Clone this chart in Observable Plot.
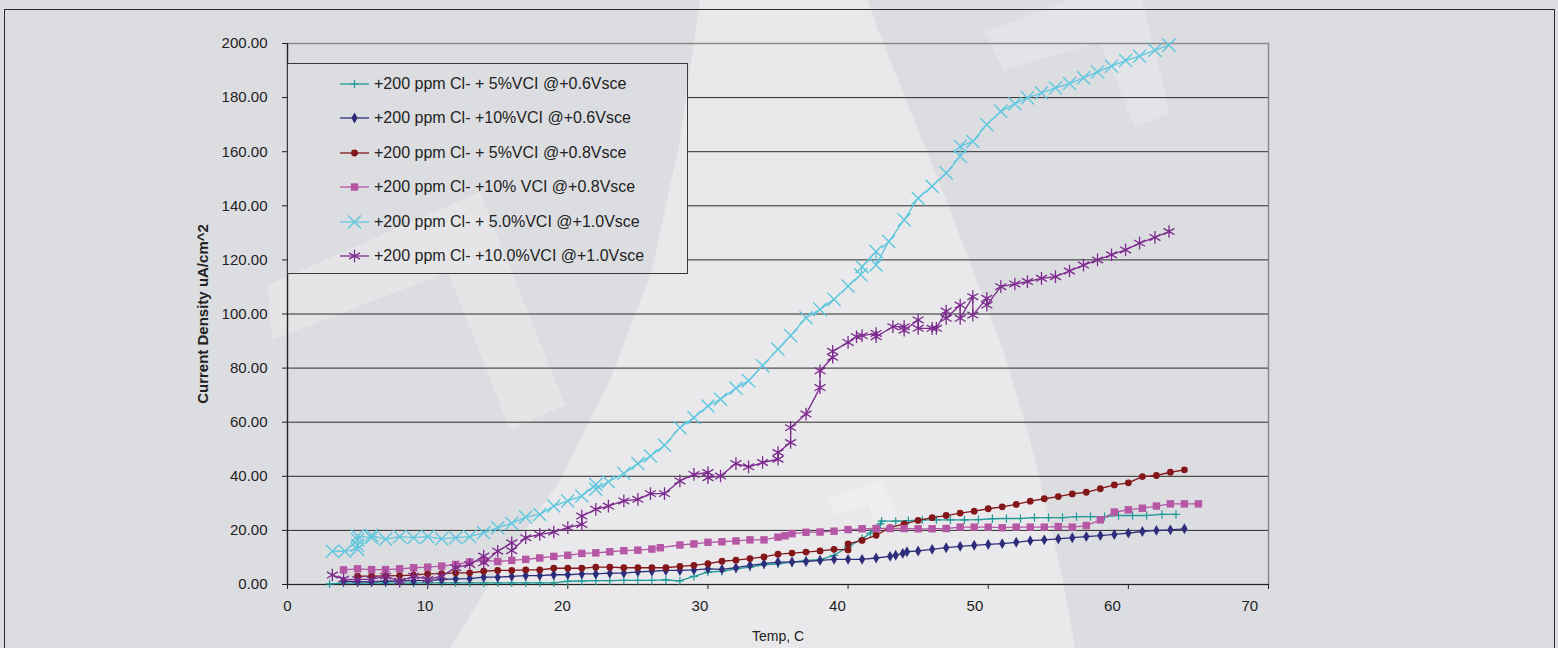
<!DOCTYPE html>
<html><head><meta charset="utf-8">
<script src="https://cdn.jsdelivr.net/npm/d3@7"></script>
<script src="https://cdn.jsdelivr.net/npm/@observablehq/plot@0.6"></script>
<style>
html,body{margin:0;padding:0;background:#dcdde0;width:1558px;height:648px;overflow:hidden;}
#wrap{position:relative;width:1558px;height:648px;font-family:"Liberation Sans",Arial,sans-serif;}
#frame{position:absolute;left:4px;top:9px;width:1551px;height:700px;border:1.5px solid #2b2b2b;box-sizing:border-box;}
#chart{position:absolute;left:0;top:0;}
#legend{position:absolute;left:287px;top:63px;width:401px;height:211px;box-sizing:border-box;border:1px solid #3a3a3a;background:#dcdde0;overflow:hidden;}
.row{position:absolute;left:52px;height:34.5px;display:flex;align-items:center;font-size:16px;color:#222;white-space:nowrap;}
.row svg{margin-right:4px;}
.wm{position:absolute;width:1558px;height:648px;pointer-events:none;}
#chart svg g[aria-label="y-axis label"] text{font-weight:bold;font-size:15px;}
#chart svg g[aria-label="x-axis label"] text{font-size:14px;}
</style></head>
<body><div id="wrap"><div id="wmlayer"></div><div id="frame"></div><div id="chart"></div><div id="legend"></div></div>
<script>
// ---- data ----
const seriesNames = [
  "+200 ppm Cl- + 5%VCI @+0.6Vsce",
  "+200 ppm Cl- +10%VCI @+0.6Vsce",
  "+200 ppm Cl- + 5%VCI @+0.8Vsce",
  "+200 ppm Cl- +10% VCI @+0.8Vsce",
  "+200 ppm Cl- + 5.0%VCI @+1.0Vsce",
  "+200 ppm Cl- +10.0%VCI @+1.0Vsce"
];
const xTicks = [0,10,20,30,40,50,60,70];
const yTicks = [0,20,40,60,80,100,120,140,160,180,200];

const tealX = [3,4,5,6,7,8,9,10,11,12,13,14,15,16,17,18,19,20,21,22,23,24,25,26,27,28,29,30,31,32,33,34,35,36,37,38,39,40,41,41.6,42.3,42.4,43.4,44.3,45.3,46.3,47.3,48.3,49.3,50.3,51.3,52.3,53.3,54.3,55.3,56.3,57.3,58.3,59.3,60.3,61.3,62.4,63.4];
const tealY = [0.2,0.5,0.5,0.5,0.5,0.5,0.5,0.6,0.6,0.6,0.6,0.6,0.6,0.6,0.6,0.6,0.6,1.2,1.3,1.4,1.4,1.5,1.5,1.5,1.7,1.3,3.0,4.6,4.9,5.8,6.4,7.3,7.6,8.3,8.9,9.2,10.8,13.9,16.9,19.0,22.4,23.4,23.4,23.6,23.9,23.9,23.9,23.9,24.0,24.3,24.4,24.4,24.7,24.7,24.7,25.1,25.1,25.1,25.5,25.5,25.5,25.9,25.9];

const navyX = [4,5,6,7,8,9,10,11,12,13,14,15,16,17,18,19,20,21,22,23,24,25,26,27,28,29,30,31,32,33,34,35,36,37,38,39,40,41,42,43,43.4,43.9,44.2,45,46,47,48,49,50,51,52,53,54,55,56,57,58,59,60,61,62,63,64];
const navyY = [1.3,1.1,1.1,1.2,1.3,1.4,1.5,1.8,2.1,2.2,2.7,2.7,3.0,3.3,3.3,3.6,3.6,3.9,3.9,4.2,4.2,4.7,4.9,5.2,5.2,5.4,5.8,5.6,6.2,7.1,7.7,8.3,8.3,8.5,8.9,9.3,9.3,9.3,9.8,10.4,10.8,11.5,12.1,12.4,13.0,13.6,14.1,14.5,14.8,15.1,15.6,16.2,16.5,16.9,17.3,17.7,18.1,18.5,19.0,19.6,20.0,20.2,20.6];

const redX = [5,6,7,8,9,10,11,12,13,14,15,16,17,18,19,20,21,22,23,24,25,26,27,28,29,30,31,32,33,34,35,36,37,38,39,40,40,41,42,43,44,45,46,47,48,49,50,51,52,53,54,55,56,57,58,59,60,61,62,63,64];
const redY = [3.1,3.1,3.2,3.3,3.5,3.9,4.0,4.3,4.3,4.9,5.2,5.2,5.4,5.4,6.0,6.0,6.0,6.4,6.4,6.2,6.2,6.2,6.2,6.7,7.1,7.7,8.6,9.0,9.6,10.2,11.2,11.6,12.0,12.4,13.0,12.8,15.0,16.3,18.2,21.0,22.4,23.7,24.7,25.5,26.4,27.1,28.0,28.7,29.6,30.8,31.7,32.5,33.5,34.1,35.4,36.8,37.6,39.9,40.3,41.5,42.4];

const pinkX = [4,5,6,7,8,9,10,11,12,13,14,15,16,17,18,19,20,21,22,23,24,25,26,26.6,28,29,30,31,32,33,34,35,35.5,36,37,38,39,40,41,42,43,44,45,46,47,48,49,50,51,52,53,54,55,56,57,58,59,60,61,62,63,64,65];
const pinkY = [5.4,5.8,5.5,5.5,5.8,6.2,6.4,6.8,7.4,8.3,8.9,8.5,8.9,9.3,9.8,10.4,10.8,11.5,11.7,12.1,12.5,12.7,13.1,13.6,14.6,15.0,15.6,15.8,16.1,16.5,16.5,17.5,18.0,18.8,19.3,19.4,19.7,20.3,20.6,20.7,20.7,20.7,20.6,20.6,20.7,21.2,21.2,21.2,21.0,21.2,21.2,21.2,21.4,21.2,21.8,23.9,26.8,27.6,28.2,29.0,29.8,29.8,29.8];

const cyanX = [3.2,4.1,5,5,5,5,6,6,7,8,9,10,11,12,13,14,15,16,17,18,19,20,21,22,22,22.9,24,25,25.9,26.9,28,29,30,30.9,32,32.9,33.9,35,35.9,37,38,39,40,40.9,41,42,42,42.9,44,45,46,47,48,48,48.9,49.9,50.9,51.9,52.8,53.8,54.8,55.8,56.8,57.8,58.8,59.8,60.8,61.9,62.9];
const cyanY = [12.3,12.3,13.0,14.5,16.5,17.9,17.3,18.2,16.7,17.7,17.3,17.7,16.9,17.3,17.7,19.1,21.0,22.6,24.9,25.9,29.0,30.9,32.7,37.0,35.2,38.0,41.0,44.7,47.5,51.5,58.0,61.7,66.0,68.5,72.6,75.3,80.9,87.0,92.0,98.6,101.7,105.4,110.3,114.5,117.5,123.1,118.1,126.8,134.8,142.8,147.2,152.1,158.3,162.0,163.8,170.0,174.9,177.7,179.9,181.7,183.6,185.2,187.3,189.5,191.6,193.7,195.3,197.5,199.4];

const purpleX = [3.2,4,5,6,7,8,9,10,11,12,13,14,14,15,16,16,17,18,19,20,21,21,22,22.9,24,25,25.9,26.9,28,29,30,30,30.9,32,32.9,33.9,35,35,35.9,35.9,37,38,38,38.9,38.9,40,40.6,41,42,42,43.2,44,44,45,45,46,46.3,47,47,48,48,48.9,48.9,49.9,49.9,50.9,51.9,52.8,53.8,54.8,55.8,56.8,57.8,58.8,59.8,60.8,61.9,62.9];
const purpleY = [3.5,2.0,1.9,1.9,3.1,1.2,3.1,1.9,3.1,6.2,7.4,10.5,8.0,12.3,15.4,12.5,17.3,18.5,19.4,21.0,22.2,25.3,27.8,29.0,30.9,31.5,33.6,33.6,38.3,40.7,41.4,39.5,40.1,44.7,43.5,45.1,46.3,48.8,52.5,58.0,63.0,72.8,79.0,84.0,86.2,89.5,91.6,92.0,92.8,91.6,95.3,95.3,94.0,97.8,94.7,94.7,94.7,101.1,98.4,103.3,98.4,106.4,99.6,105.8,103.3,110.1,111.1,112.0,113.2,113.8,115.9,118.1,120.0,121.9,123.7,126.2,128.3,130.5];

const seriesX = [tealX, navyX, redX, pinkX, cyanX, purpleX];
const seriesY = [tealY, navyY, redY, pinkY, cyanY, purpleY];
const colors = ["#1f9a97","#2e2d7c","#831619","#b657a6","#5fc7de","#7d2a8e"];
const symbols = ["plus","diamond","circle","square","times","asterisk"];
const symbolFilled = [false,true,true,true,false,false];
const symbolR = [2.8,3.3,3.4,4.2,6,6];
const symbolStrokeW = [1.2,1,1,1,1.4,1.3];

// Excel's tick label spacing runs slightly shorter than its tick spacing
const xLabelStretch = 0.981;

const FONT = '"Liberation Sans",Arial,sans-serif';

const rows = seriesNames.flatMap((name, k) => seriesX[k].map((x, i) => ({name, k, x, y: seriesY[k][i]})));

const marks = [
  Plot.gridY(yTicks, {stroke: "#2a2a2a", strokeOpacity: 1, strokeWidth: 1}),
  Plot.frame({stroke: "#8a8a8a", strokeWidth: 1.5}),
  Plot.axisY(yTicks, {tickFormat: d => d.toFixed(2), tickSize: 5, tickPadding: 15, fontSize: 15, fill: "#222", stroke: "#222",
    label: "Current Density uA/cm^2", labelAnchor: "center", labelOffset: 90, labelArrow: "none"}),
  Plot.axisX(xTicks, {tickSize: 5, tickFormat: () => "", fill: "#222", stroke: "#222",
    label: "Temp, C", labelAnchor: "center", labelOffset: 56, labelArrow: "none", fontSize: 14}),
  Plot.text(xTicks, {x: d => d * xLabelStretch, text: d => String(d), frameAnchor: "bottom", dy: 26, fontSize: 15, fill: "#222"}),
  Plot.ruleX([0], {stroke: "#222", strokeWidth: 1.2}),
  Plot.ruleY([0], {stroke: "#222", strokeWidth: 1.2})
];
seriesNames.forEach((name, k) => {
  const d = rows.filter(r => r.k === k);
  marks.push(Plot.line(d, {x: "x", y: "y", stroke: colors[k], strokeWidth: 1.3}));
  marks.push(Plot.dot(d, symbolFilled[k]
    ? {x: "x", y: "y", symbol: () => symbols[k], r: symbolR[k], fill: colors[k], stroke: "none"}
    : {x: "x", y: "y", symbol: () => symbols[k], r: symbolR[k], stroke: colors[k], strokeWidth: symbolStrokeW[k], fill: "none"}));
});

const chart = Plot.plot({
  width: 1558, height: 648,
  marginLeft: 287, marginRight: 290, marginTop: 43, marginBottom: 64,
  style: {background: "transparent", fontFamily: FONT, fontSize: "15px", color: "#222"},
  x: {domain: [0, 70]},
  y: {domain: [0, 200]},
  symbol: {type: "identity"},
  marks
});
document.getElementById("chart").appendChild(chart);

// decorative watermark shapes (behind the chart, and repeated inside the legend box)
const wms = [
  {d: "M700,0 L680,140 L652,270 L610,380 L560,480 L495,575 L450,648 L1075,648 L1062,575 L1030,440 L1003,350 L950,210 L878,30 L868,0 Z", a: 0.37},
  {d: "M268,285 L480,192 L565,405 L510,430 L448,272 L272,340 Z", a: 0.25},
  {d: "M985,32 L1090,-8 L1140,-8 L1170,113 L1135,127 L1100,42 L1003,70 Z", a: 0.22},
  {d: "M828,498 L880,480 L900,520 L877,528 L868,505 L836,515 Z", a: 0.25}
];
function addWatermarks(parent, ox, oy) {
  wms.forEach(w => {
    const div = document.createElement("div");
    div.className = "wm";
    div.style.left = (-ox) + "px";
    div.style.top = (-oy) + "px";
    div.style.background = `rgba(255,255,255,${w.a})`;
    div.style.clipPath = `path('${w.d}')`;
    parent.appendChild(div);
  });
}
addWatermarks(document.getElementById("wmlayer"), 0, 0);

// legend (inside plot area)
const legend = document.getElementById("legend");
addWatermarks(legend, 288, 64);
seriesNames.forEach((name, k) => {
  const row = document.createElement("div");
  row.className = "row";
  row.style.top = (2.5 + k * 34.5) + "px";
  const svg = d3.create("svg").attr("width", 30).attr("height", 16);
  svg.append("line").attr("x1", 0).attr("x2", 29).attr("y1", 8).attr("y2", 8).attr("stroke", colors[k]).attr("stroke-width", 1.3);
  const symMap = {plus: d3.symbolPlus, diamond: d3.symbolDiamond, circle: d3.symbolCircle, square: d3.symbolSquare, times: d3.symbolTimes, asterisk: d3.symbolAsterisk};
  const p = svg.append("path").attr("transform", "translate(14.5,8)")
    .attr("d", d3.symbol(symMap[symbols[k]], Math.PI * symbolR[k] * symbolR[k])());
  if (symbolFilled[k]) p.attr("fill", colors[k]); else p.attr("fill", "none").attr("stroke", colors[k]).attr("stroke-width", symbolStrokeW[k]);
  row.appendChild(svg.node());
  const t = document.createElement("span");
  t.textContent = name;
  row.appendChild(t);
  legend.appendChild(row);
});
</script></body></html>
